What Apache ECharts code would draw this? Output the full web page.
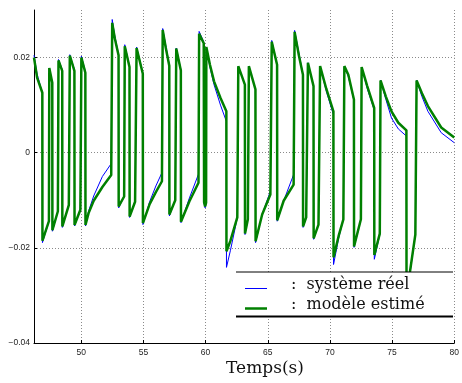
<!DOCTYPE html>
<html>
<head>
<meta charset="utf-8">
<script src="https://cdn.jsdelivr.net/npm/echarts@6/dist/echarts.min.js"></script>
<style>
  html, body { margin: 0; padding: 0; background: #fff; }
  #main { width: 462px; height: 383px; }
</style>
</head>
<body>
<div id="main"></div>
<script>
// time (s); a repeated time gives a vertical switch
const timeValues = [
  46.2, 46.45, 46.87, 46.88, 47.40, 47.43, 47.67, 47.68, 48.12, 48.17,
  48.47, 48.48, 49.00, 49.08, 49.45, 49.46, 49.93, 50.01, 50.33, 50.34,
  50.6, 51.0, 51.7, 52.41, 52.49, 52.7, 53.0, 53.01, 53.45, 53.50,
  53.88, 53.89, 54.33, 54.45, 54.95, 54.96, 55.5, 56.0, 56.49, 56.55,
  56.8, 57.08, 57.09, 57.56, 57.64, 58.01, 58.02, 58.7, 59.43, 59.48,
  59.85, 59.88, 59.96, 60.04, 60.06, 60.35, 60.68, 61.2, 61.67, 61.68,
  62.0, 62.55, 62.63, 63.16, 63.17, 63.40, 63.48, 64.01, 64.02, 64.55,
  65.21, 65.32, 65.75, 65.76, 66.28, 67.08, 67.16, 67.5, 67.83, 67.84,
  68.09, 68.23, 68.68, 68.69, 69.08, 69.21, 69.7, 70.28, 70.29, 70.7,
  71.08, 71.16, 71.48, 71.93, 71.94, 72.49, 72.55, 73.0, 73.56, 73.57,
  74.01, 74.07, 74.5, 74.95, 75.5, 76.15, 76.16, 76.87, 76.97, 77.4,
  77.88, 78.95, 80.0
];

// système réel (blue)
const realValues = [
  0.0205, 0.0165, 0.0126, -0.0189, -0.0144, 0.0178, 0.0147, -0.0165, -0.0123, 0.0196,
  0.0175, -0.0157, -0.0108, 0.0206, 0.0175, -0.0154, -0.0119, 0.0203, 0.0171, -0.0154,
  -0.0122, -0.0091, -0.0050, -0.0023, 0.0280, 0.0245, 0.0207, -0.0116, -0.0091, 0.0227,
  0.0182, -0.0136, -0.0101, 0.0222, 0.0168, -0.0151, -0.0103, -0.0070, -0.0042, 0.0261,
  0.0225, 0.0185, -0.0133, -0.0098, 0.0220, 0.0175, -0.0147, -0.0095, -0.0045, 0.0255,
  0.0233, -0.0106, -0.0116, -0.0108, 0.0222, 0.0180, 0.0143, 0.0100, 0.0066, -0.0241,
  -0.0205, -0.0137, 0.0182, 0.0143, -0.0172, -0.0140, 0.0182, 0.0133, -0.0189, -0.0130,
  -0.0081, 0.0236, 0.0185, -0.0144, -0.0101, -0.0046, 0.0257, 0.0210, 0.0164, -0.0157,
  -0.0136, 0.0189, 0.0140, -0.0182, -0.0151, 0.0182, 0.0130, 0.0080, -0.0235, -0.0180,
  -0.0140, 0.0182, 0.0160, 0.0110, -0.0199, -0.0140, 0.0180, 0.0135, 0.0090, -0.0224,
  -0.0172, 0.0152, 0.0112, 0.0073, 0.0050, 0.0035, -0.0305, -0.0172, 0.0152, 0.0118,
  0.0087, 0.0042, 0.0021
];

// modèle estimé (green)
const modelValues = [
  0.0200, 0.0158, 0.0126, -0.0185, -0.0144, 0.0178, 0.0147, -0.0163, -0.0123, 0.0194,
  0.0172, -0.0155, -0.0110, 0.0204, 0.0172, -0.0152, -0.0120, 0.0200, 0.0168, -0.0152,
  -0.0126, -0.0101, -0.0072, -0.0047, 0.0273, 0.0240, 0.0205, -0.0113, -0.0092, 0.0224,
  0.0180, -0.0134, -0.0103, 0.0220, 0.0166, -0.0148, -0.0108, -0.0083, -0.0060, 0.0258,
  0.0220, 0.0183, -0.0130, -0.0100, 0.0219, 0.0173, -0.0145, -0.0102, -0.0063, 0.0250,
  0.0230, -0.0104, -0.0113, -0.0105, 0.0222, 0.0185, 0.0150, 0.0115, 0.0087, -0.0207,
  -0.0185, -0.0136, 0.0182, 0.0143, -0.0170, -0.0140, 0.0182, 0.0133, -0.0186, -0.0130,
  -0.0088, 0.0233, 0.0185, -0.0142, -0.0101, -0.0067, 0.0254, 0.0205, 0.0164, -0.0155,
  -0.0136, 0.0189, 0.0140, -0.0180, -0.0151, 0.0182, 0.0135, 0.0087, -0.0220, -0.0175,
  -0.0140, 0.0182, 0.0164, 0.0112, -0.0197, -0.0140, 0.0180, 0.0140, 0.0094, -0.0215,
  -0.0170, 0.0152, 0.0118, 0.0087, 0.0063, 0.0047, -0.0300, -0.0172, 0.0152, 0.0125,
  0.0098, 0.0053, 0.0032
];

const legendNames = ['système réel', 'modèle estimé'];
const xAxisTitle = 'Temps(s)';

const realData = timeValues.map((t, i) => [t, realValues[i]]);
const modelData = timeValues.map((t, i) => [t, modelValues[i]]);

const chart = echarts.init(document.getElementById('main'), null, { renderer: 'canvas' });

const tickFont = { fontFamily: 'Liberation Sans', fontSize: 8.5, color: '#222' };
const gridLine = { show: true, lineStyle: { color: '#8a8a8a', type: [1, 2], width: 1 } };

const option = {
  animation: false,
  backgroundColor: '#fff',
  grid: { left: 34, right: 5, top: 10, bottom: 40 },
  xAxis: {
    type: 'value',
    min: 46.2,
    max: 80,
    splitNumber: 7,
    axisLine: { onZero: false, lineStyle: { color: '#000', width: 1 } },
    axisTick: { inside: true, length: 3, lineStyle: { color: '#000' } },
    axisLabel: Object.assign({ margin: 5, showMinLabel: false }, tickFont),
    splitLine: Object.assign({ showMinLine: false }, gridLine)
  },
  yAxis: {
    type: 'value',
    min: -0.04,
    max: 0.03,
    interval: 0.02,
    axisLine: { show: true, onZero: false, lineStyle: { color: '#000', width: 1 } },
    axisTick: { show: true, inside: true, length: 3, lineStyle: { color: '#000' } },
    axisLabel: Object.assign({
      margin: 4,
      showMaxLabel: false,
      formatter: v => String(+v.toFixed(2)).replace('-', '\u2212')
    }, tickFont),
    splitLine: Object.assign({ showMaxLine: false, showMinLine: false }, gridLine)
  },
  series: [
    {
      name: legendNames[0],
      type: 'line',
      data: realData,
      showSymbol: false,
      lineStyle: { color: '#0000ff', width: 1 },
      z: 2
    },
    {
      name: legendNames[1],
      type: 'line',
      data: modelData,
      showSymbol: false,
      lineStyle: { color: '#008000', width: 2.5 },
      z: 3
    }
  ],
  graphic: [
    // legend box (white, top rule thin, bottom rule thick)
    { type: 'rect', z: 100, shape: { x: 236, y: 272, width: 217, height: 45 }, style: { fill: '#fff' } },
    { type: 'line', z: 101, shape: { x1: 236, y1: 272, x2: 453, y2: 272 }, style: { stroke: '#000', lineWidth: 1 } },
    { type: 'line', z: 101, shape: { x1: 236, y1: 316.5, x2: 453, y2: 316.5 }, style: { stroke: '#000', lineWidth: 2 } },
    { type: 'line', z: 101, shape: { x1: 245, y1: 288.5, x2: 267, y2: 288.5 }, style: { stroke: '#0000ff', lineWidth: 1 } },
    { type: 'line', z: 101, shape: { x1: 245, y1: 308.5, x2: 267, y2: 308.5 }, style: { stroke: '#008000', lineWidth: 2.5 } },
    { type: 'text', z: 101, x: 291, y: 285, style: { text: ':  ' + legendNames[0], font: '16px "DejaVu Serif"', fill: '#111', verticalAlign: 'middle' } },
    { type: 'text', z: 101, x: 291, y: 305, style: { text: ':  ' + legendNames[1], font: '16px "DejaVu Serif"', fill: '#111', verticalAlign: 'middle' } },
    { type: 'text', z: 101, x: 265, y: 369, style: { text: xAxisTitle, font: '17px "DejaVu Serif"', fill: '#111', align: 'center', verticalAlign: 'middle' } }
  ]
};

chart.setOption(option);
</script>
</body>
</html>
